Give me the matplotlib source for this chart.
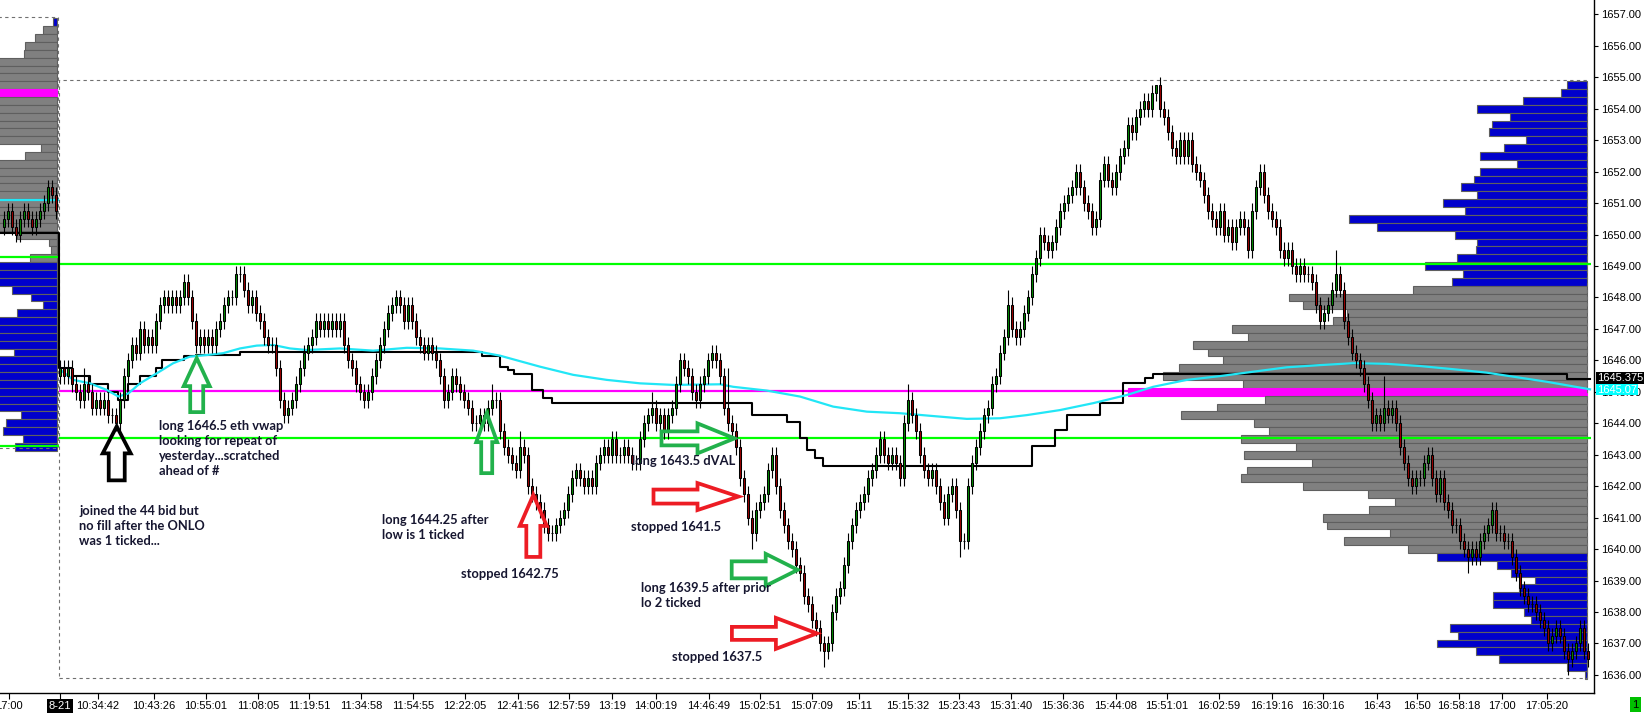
import numpy as np
import matplotlib
matplotlib.use('Agg')
import matplotlib.pyplot as plt
from matplotlib.patches import Polygon, Rectangle
from matplotlib import transforms

# ---------------- data ----------------
main_open = 1645.5
main_closes = [
    1645.75, 1645.5, 1645.75, 1645.25, 1645.0, 1644.75, 1645.25, 1645.0, 1644.5, 1644.75,
    1644.5, 1644.75, 1644.25, 1644.25, 1644.0, 1644.75, 1645.5, 1646.0, 1646.5, 1646.25,
    1647.0, 1646.5, 1646.75, 1646.5, 1647.25, 1647.75, 1648.0, 1647.75, 1648.0, 1647.75,
    1648.0, 1648.5, 1648.0, 1647.25, 1646.5, 1646.75, 1646.5, 1646.75, 1646.5, 1647.0,
    1647.25, 1647.75, 1648.0, 1648.0, 1648.75, 1648.75, 1648.25, 1647.75, 1648.0, 1647.5,
    1647.25, 1646.75, 1646.5, 1646.5, 1645.75, 1644.75, 1644.25, 1644.5, 1644.75, 1645.25,
    1645.75, 1646.25, 1646.5, 1646.75, 1647.25, 1647.0, 1647.25, 1647.0, 1647.25, 1647.0,
    1647.25, 1646.5, 1646.0, 1645.75, 1645.25, 1645.0, 1644.75, 1645.0, 1645.5, 1646.0,
    1646.5, 1647.0, 1647.5, 1647.75, 1648.0, 1647.75, 1647.25, 1647.75, 1647.25, 1646.75,
    1646.5, 1646.25, 1646.5, 1646.25, 1646.0, 1645.5, 1644.75, 1645.0, 1645.5, 1645.25,
    1645.0, 1644.75, 1644.5, 1644.0, 1644.0, 1644.25, 1644.0, 1644.5, 1644.75, 1644.75,
    1643.75, 1643.25, 1643.0, 1642.75, 1642.5, 1643.25, 1643.0, 1642.0, 1641.75, 1641.5,
    1641.25, 1640.75, 1640.5, 1640.5, 1640.75, 1641.0, 1641.25, 1641.75, 1642.25, 1642.5,
    1642.25, 1642.0, 1642.25, 1642.0, 1642.75, 1643.0, 1643.25, 1643.0, 1643.5, 1643.0,
    1643.0, 1643.25, 1643.0, 1642.75, 1642.75, 1643.5, 1644.0, 1644.25, 1644.5, 1644.0,
    1644.25, 1643.75, 1644.25, 1644.5, 1645.25, 1646.0, 1645.75, 1645.5, 1645.0, 1644.75,
    1645.25, 1645.5, 1646.0, 1646.25, 1646.0, 1645.5, 1644.5, 1644.0, 1643.75, 1643.25,
    1642.25, 1641.75, 1641.0, 1640.5, 1641.25, 1641.5, 1641.75, 1642.5, 1643.0, 1642.0,
    1641.25, 1640.75, 1640.25, 1640.0, 1639.5, 1639.25, 1638.5, 1638.25, 1637.75, 1637.5,
    1637.0, 1636.75, 1637.0, 1638.0, 1638.5, 1638.75, 1639.5, 1640.25, 1640.75, 1641.25,
    1641.5, 1641.75, 1642.25, 1642.5, 1643.0, 1643.5, 1643.0, 1642.75, 1643.0, 1642.75,
    1642.25, 1644.0, 1644.75, 1644.25, 1643.75, 1643.0, 1642.5, 1642.25, 1642.5, 1642.0,
    1641.5, 1641.0, 1641.75, 1642.0, 1641.25, 1640.25, 1640.25, 1642.0, 1642.75, 1643.25,
    1643.75, 1644.25, 1644.5, 1645.25, 1645.5, 1646.25, 1646.75, 1647.75, 1647.0, 1646.75,
    1647.0, 1647.5, 1648.0, 1648.75, 1649.25, 1650.0, 1649.75, 1649.5, 1649.75, 1650.25,
    1650.75, 1651.0, 1651.25, 1651.5, 1652.0, 1651.5, 1651.0, 1650.75, 1650.25, 1650.5,
    1651.75, 1652.25, 1651.75, 1651.5, 1652.0, 1652.5, 1652.75, 1653.5, 1653.25, 1653.75,
    1654.0, 1654.25, 1654.0, 1654.5, 1654.75, 1654.0, 1653.75, 1653.25, 1652.75, 1652.5,
    1653.0, 1652.5, 1653.0, 1652.25, 1652.0, 1651.75, 1651.25, 1650.75, 1650.5, 1650.25,
    1650.75, 1650.0, 1650.25, 1649.75, 1650.25, 1650.5, 1650.25, 1649.5, 1650.75, 1651.5,
    1652.0, 1651.25, 1650.75, 1650.5, 1650.25, 1649.5, 1649.25, 1649.5, 1649.0, 1648.75,
    1649.0, 1648.75, 1648.75, 1648.5, 1647.75, 1647.25, 1647.5, 1647.75, 1648.25, 1648.75,
    1648.25, 1647.25, 1646.75, 1646.25, 1646.0, 1645.75, 1645.25, 1644.75, 1644.0, 1644.25,
    1644.0, 1644.5, 1644.25, 1644.5, 1644.0, 1643.25, 1642.75, 1642.25, 1642.0, 1642.25,
    1642.25, 1642.75, 1643.0, 1642.25, 1641.75, 1642.25, 1641.5, 1641.25, 1640.75, 1640.75,
    1640.25, 1640.0, 1639.75, 1640.0, 1639.75, 1640.25, 1640.5, 1640.75, 1641.25, 1640.5,
    1640.5, 1640.25, 1640.25, 1639.75, 1639.25, 1638.75, 1638.5, 1638.25, 1638.25, 1638.0,
    1637.75, 1637.5, 1637.0, 1637.25, 1637.5, 1637.25, 1636.75, 1636.5, 1636.75, 1637.0,
    1637.5, 1636.75, 1636.5,
]
main_high_marks = {6: 1645.75, 31: 1648.75, 44: 1649.0, 84: 1648.25, 108: 1645.25,
                   115: 1643.75, 148: 1645.0, 163: 1646.5, 167: 1645.75, 212: 1645.25,
                   237: 1648.25, 254: 1652.25, 274: 1654.75, 300: 1652.25, 319: 1649.5,
                   331: 1645.5}
main_low_marks = {122: 1640.25, 173: 1640.0, 191: 1636.25, 225: 1639.75,
                  352: 1639.25, 377: 1636.0}

prior_open = 1650.25
prior_closes = [1650.5, 1650.75, 1650.25, 1650.0, 1650.5, 1650.75, 1650.5,
                1650.25, 1650.5, 1650.75, 1651.0, 1651.5, 1651.25, 1650.75]

# session volume profile (price rows, top -> bottom), lengths in pixels of bar
main_prof_top = 1654.75
main_prof_len = [20, 26, 64, 110, 77, 95, 98, 61, 83, 107, 70, 107,
                 113, 126, 110, 144, 122, 238, 210, 132, 110, 111, 130, 162,
                 124, 135, 174, 298, 284, 240, 254, 355, 339, 394, 379, 364,
                 408, 424, 344, 459, 322, 370, 406, 333, 318, 346, 291, 343,
                 275, 340, 346, 284, 219, 192, 218, 264, 260, 197, 243, 179,
                 150, 90, 76, 52, 68, 94, 94, 63, 56, 137, 129, 150,
                 111, 88, 20, 2]
main_poc = 1645.0
main_va = (1640.0, 1648.25)

prior_prof_top = 1656.75
prior_prof_len = [4, 14, 22, 32, 33,
                  80, 80, 80, 80, 80, 80, 80, 80, 80, 80, 80,
                  16, 32,
                  80, 80, 80, 80, 80, 80, 80, 80, 80,
                  40, 8, 6, 27,
                  80, 80, 80,
                  45, 26, 14, 40,
                  80, 80, 80, 80,
                  43,
                  80, 80, 80, 80, 80, 80, 80,
                  36, 51, 54, 34, 42]
prior_poc = 1654.5
prior_va = (1649.25, 1656.5)

# developing VWAP (cyan) samples: bar, price
vwap_bar = [0.2, 3.3, 7.5, 11.7, 14.6, 17.1, 20, 24.2, 28.3, 32.5, 36.7, 40.8, 45, 49.2,
            53.3, 57.5, 61.7, 70, 78.3, 86.7, 95, 103.3, 110, 120, 128.3, 136.7, 145,
            153.3, 165, 168.3, 176.7, 185, 193.3, 201.7, 210, 218.3, 226.7, 235, 241.7,
            250, 258.3, 266.7, 273.3, 281.7, 290, 298.3, 306.7, 315, 323.3, 331.7, 340,
            348.3, 356.7, 371.7, 382.5]
vwap_val = [1645.69, 1645.38, 1645.27, 1645.06, 1644.85, 1644.95, 1645.27, 1645.59,
            1645.91, 1646.12, 1646.17, 1646.23, 1646.38, 1646.47, 1646.49, 1646.38,
            1646.33, 1646.38, 1646.31, 1646.40, 1646.38, 1646.31, 1646.15, 1645.80,
            1645.54, 1645.38, 1645.27, 1645.22, 1645.24, 1645.16, 1645.04, 1644.85,
            1644.53, 1644.37, 1644.32, 1644.23, 1644.14, 1644.16, 1644.26, 1644.42,
            1644.64, 1644.90, 1645.16, 1645.38, 1645.50, 1645.64, 1645.78, 1645.85,
            1645.91, 1645.89, 1645.82, 1645.72, 1645.61, 1645.32, 1645.08]

# developing POC (black step line): start bar, price
dpoc_bar = [-15, -0.25, 3, 7.5, 12, 14.5, 17, 20, 24, 25.5, 31, 34, 45, 105.5, 110, 112,
            113.5, 118, 120.75, 123, 173, 181.75, 185, 186.75, 188.75, 190.75, 243,
            248.75, 251.75, 260, 265.75, 271.25, 273.25, 376.75, 382.5]
dpoc_val = [1650.05, 1645.75, 1645.5, 1645.25, 1645.0, 1644.75, 1645.25, 1645.5, 1645.75,
            1646.0, 1646.15, 1646.17, 1646.28, 1646.15, 1645.8, 1645.7, 1645.56, 1645.06,
            1644.8, 1644.65, 1644.26, 1644.05, 1643.54, 1643.15, 1642.9, 1642.64,
            1643.27, 1643.8, 1644.26, 1644.65, 1645.28, 1645.43, 1645.56, 1645.42,
            1645.42]

prior_vwap = 1651.1
levels_main = {'vah': 1649.06, 'val': 1643.54, 'poc': 1645.04}
levels_prior = {'vah': 1649.3, 'val': 1643.28}
flag_dpoc = ('1645.375', 1645.44)
flag_vwap = ('1645.07', 1645.07)

y_ticks = list(range(1636, 1658))
x_tick_pos = [-12.75, 0, 9.5, 23.5, 36.5, 49.5, 62.25, 75.25, 88.25, 101.25, 114.5,
              127.25, 138, 149, 162.25, 175, 188, 199.75, 212, 224.75, 237.75, 250.75,
              264, 276.75, 289.75, 303, 315.75, 329.25, 339.25, 349.75, 360.5, 371.75]
x_tick_labels = ['17:00', '8-21', '10:34:42', '10:43:26', '10:55:01', '11:08:05',
                 '11:19:51', '11:34:58', '11:54:55', '12:22:05', '12:41:56', '12:57:59',
                 '13:19', '14:00:19', '14:46:49', '15:02:51', '15:07:09', '15:11',
                 '15:15:32', '15:23:43', '15:31:40', '15:36:36', '15:44:08', '15:51:01',
                 '16:02:59', '16:19:16', '16:30:16', '16:43', '16:50', '16:58:18',
                 '17:00', '17:05:20']

notes = [
    (24.75, 1644.12, "long 1646.5 eth vwap\nlooking for repeat of\nyesterday...scratched\nahead of #"),
    (4.75, 1641.40, "joined the 44 bid but\nno fill after the ONLO\nwas 1 ticked..."),
    (80.5, 1641.12, "long 1644.25 after\nlow is 1 ticked"),
    (100.25, 1639.40, "stopped 1642.75"),
    (143.0, 1642.98, "long 1643.5 dVAL"),
    (142.75, 1640.90, "stopped 1641.5"),
    (145.25, 1638.95, "long 1639.5 after prior\nlo 2 ticked"),
    (153.0, 1636.76, "stopped 1637.5"),
]
# arrows: kind, colour, tip bar, tip price
arrows = [
    ('up', 'black', 14.18, 1643.95),
    ('up', '#22B14C', 34.18, 1646.12),
    ('up', '#22B14C', 106.68, 1644.37),
    ('up', '#ED1C24', 118.33, 1641.77),
    ('right', '#22B14C', 169.0, 1643.52),
    ('right', '#ED1C24', 170.0, 1641.67),
    ('right', '#22B14C', 184.8, 1639.34),
    ('right', '#ED1C24', 189.6, 1637.32),
]

# ---------------- style / geometry ----------------
PX_X = 0.25          # bars per pixel
PX_Y = 1 / 31.45     # price per pixel
TICK = 0.25
GREEN_C = '#008800'
RED_C = '#990000'
BLUE_C = '#0000CC'
GRAY_C = '#808080'
EDGE_C = '#5F5F5F'
MAG_C = '#FF00FF'
LIME_C = '#00FF00'
CYAN_C = '#22E6F6'

fig = plt.figure(figsize=(16.44, 7.14), dpi=100)
ax = fig.add_axes([0, 21 / 714, 1594 / 1644, 693 / 714])
ax.set_xlim(-15, 383.5)
ax.set_ylim(1635.424, 1657.459)

# ---- volume profiles ----
def draw_profile(top, lengths, right_bar, poc, va):
    prices = top - TICK * np.arange(len(lengths))
    for p, L in zip(prices, lengths):
        w = L * PX_X
        if abs(p - poc) < 1e-6:
            col = MAG_C
        elif va[0] - 1e-6 <= p <= va[1] + 1e-6:
            col = GRAY_C
        else:
            col = BLUE_C
        ax.add_patch(Rectangle((right_bar - w, p - TICK / 2), w, TICK, facecolor=col,
                               edgecolor=EDGE_C if col != MAG_C else MAG_C,
                               linewidth=0.8, zorder=1))

draw_profile(main_prof_top, main_prof_len, 381.75, main_poc, main_va)
draw_profile(prior_prof_top, prior_prof_len, -0.75, prior_poc, prior_va)

# ---- dashed session boxes ----
ax.add_patch(Rectangle((-0.25, 1635.91), 382.0, 1654.92 - 1635.91, fill=False,
                       edgecolor='#707070', linestyle=(0, (3, 3)), linewidth=0.8, zorder=2))
ax.add_patch(Rectangle((-20, 1643.2), 19.5, 1656.92 - 1643.2, fill=False,
                       edgecolor='#707070', linestyle=(0, (3, 3)), linewidth=0.8, zorder=2))

# ---- level lines ----
ax.hlines([levels_main['vah'], levels_main['val']], -0.25, 382.75, colors=LIME_C,
          linewidth=1.6, zorder=3)
ax.hlines([levels_prior['vah'], levels_prior['val']], -15, -0.25, colors=LIME_C,
          linewidth=1.6, zorder=3)
ax.hlines(levels_main['poc'], -0.25, 381.75, colors=MAG_C, linewidth=1.6, zorder=3)
ax.hlines(prior_vwap, -15, -0.25, colors=CYAN_C, linewidth=1.6, zorder=3)

# ---- developing POC and VWAP ----
ax.step(dpoc_bar, dpoc_val, where='post', color='black', linewidth=1.5, zorder=4)
ax.plot(vwap_bar, vwap_val, color=CYAN_C, linewidth=1.6, zorder=4)

# ---- candles ----
def draw_candles(first_bar, first_open, closes, hi_marks, lo_marks):
    closes = np.array(closes, dtype=float)
    opens = np.concatenate([[first_open], closes[:-1]])
    xs = first_bar + np.arange(len(closes))
    highs = np.maximum(opens, closes) + TICK
    lows = np.minimum(opens, closes) - TICK
    for k, v in hi_marks.items():
        highs[k] = max(v, max(opens[k], closes[k]))
    for k, v in lo_marks.items():
        lows[k] = min(v, min(opens[k], closes[k]))
    ax.vlines(xs, lows, highs, colors='black', linewidth=0.8, zorder=5)
    cols = np.where(closes >= opens, GREEN_C, RED_C)
    bottoms = np.minimum(opens, closes)
    heights = np.abs(closes - opens)
    ax.bar(xs, heights, width=0.74, bottom=bottoms, color=cols, edgecolor='black',
           linewidth=0.75, zorder=6)

draw_candles(0, main_open, main_closes, main_high_marks, main_low_marks)
draw_candles(-len(prior_closes), prior_open, prior_closes, {}, {})

# ---- arrows ----
def arrow_poly(kind, tb, tp, hw, hl, sw, L):
    if kind == 'up':
        pts = [(0, 0), (hw / 2, hl), (sw / 2, hl), (sw / 2, L), (-sw / 2, L),
               (-sw / 2, hl), (-hw / 2, hl)]
    else:
        pts = [(0, 0), (-hl, -hw / 2), (-hl, -sw / 2), (-L, -sw / 2), (-L, sw / 2),
               (-hl, sw / 2), (-hl, hw / 2)]
    return [(tb + dx * PX_X, tp - dy * PX_Y) for dx, dy in pts]

arrow_dims = [(28, 27, 16, 54), (26, 28, 13, 54), (21, 29, 11, 60), (27, 31, 14, 62),
              (30, 37, 14, 73), (27, 41, 14, 85), (32, 32, 17, 66), (31, 41, 13, 85)]
for (kind, col, tb, tp), (hw, hl, sw, L) in zip(arrows, arrow_dims):
    if kind == 'up':
        tp -= 1.5 * PX_Y
    else:
        tb -= 1.5 * PX_X
    ax.add_patch(Polygon(arrow_poly(kind, tb, tp, hw, hl, sw, L), closed=True,
                         facecolor='none', edgecolor=col, linewidth=2.7,
                         joinstyle='miter', zorder=8))

# ---- notes ----
for b, p, t in notes:
    ax.text(b, p, t, ha='left', va='top', fontsize=9.3, family=['Lato', 'DejaVu Sans'],
            fontweight='bold', color='#161630', linespacing=1.3, zorder=9)

# ---- axes styling ----
for s in ['left', 'top']:
    ax.spines[s].set_visible(False)
for s in ['right', 'bottom']:
    ax.spines[s].set_color('black')
    ax.spines[s].set_linewidth(1.0)
ax.yaxis.tick_right()
ax.set_yticks(y_ticks)
ax.set_yticklabels([f'{v:.2f}' for v in y_ticks])
ax.set_xticks(x_tick_pos)
ax.set_xticklabels(x_tick_labels)
ax.tick_params(axis='y', length=3, width=0.8, pad=2, labelsize=8)
ax.tick_params(axis='x', length=4, width=0.8, pad=2, labelsize=8)
for lab in ax.get_xticklabels() + ax.get_yticklabels():
    lab.set_family(['Liberation Sans', 'DejaVu Sans'])
xl = ax.get_xticklabels()
xl[1].set_color('white')
xl[1].set_bbox(dict(facecolor='black', edgecolor='none', pad=1.5))

# right-axis value flags
blend = transforms.blended_transform_factory(fig.transFigure, ax.transData)
fig.text(1597 / 1644, flag_vwap[1], flag_vwap[0], transform=blend, ha='left',
         va='center', fontsize=8, family=['Liberation Sans', 'DejaVu Sans'],
         color='white', bbox=dict(facecolor='#00FFFF', edgecolor='none', pad=0.6),
         zorder=10)
fig.text(1597 / 1644, flag_dpoc[1], flag_dpoc[0], transform=blend, ha='left',
         va='center', fontsize=8, family=['Liberation Sans', 'DejaVu Sans'],
         color='white', bbox=dict(facecolor='black', edgecolor='none', pad=0.6),
         zorder=11)
fig.text(1635.5 / 1644, 1 - 704.5 / 714, '1', ha='center', va='center', fontsize=8,
         family=['Liberation Sans', 'DejaVu Sans'], color='black',
         bbox=dict(facecolor='#00C000', edgecolor='none', pad=2.0))

fig.savefig('out.png', dpi=100)
